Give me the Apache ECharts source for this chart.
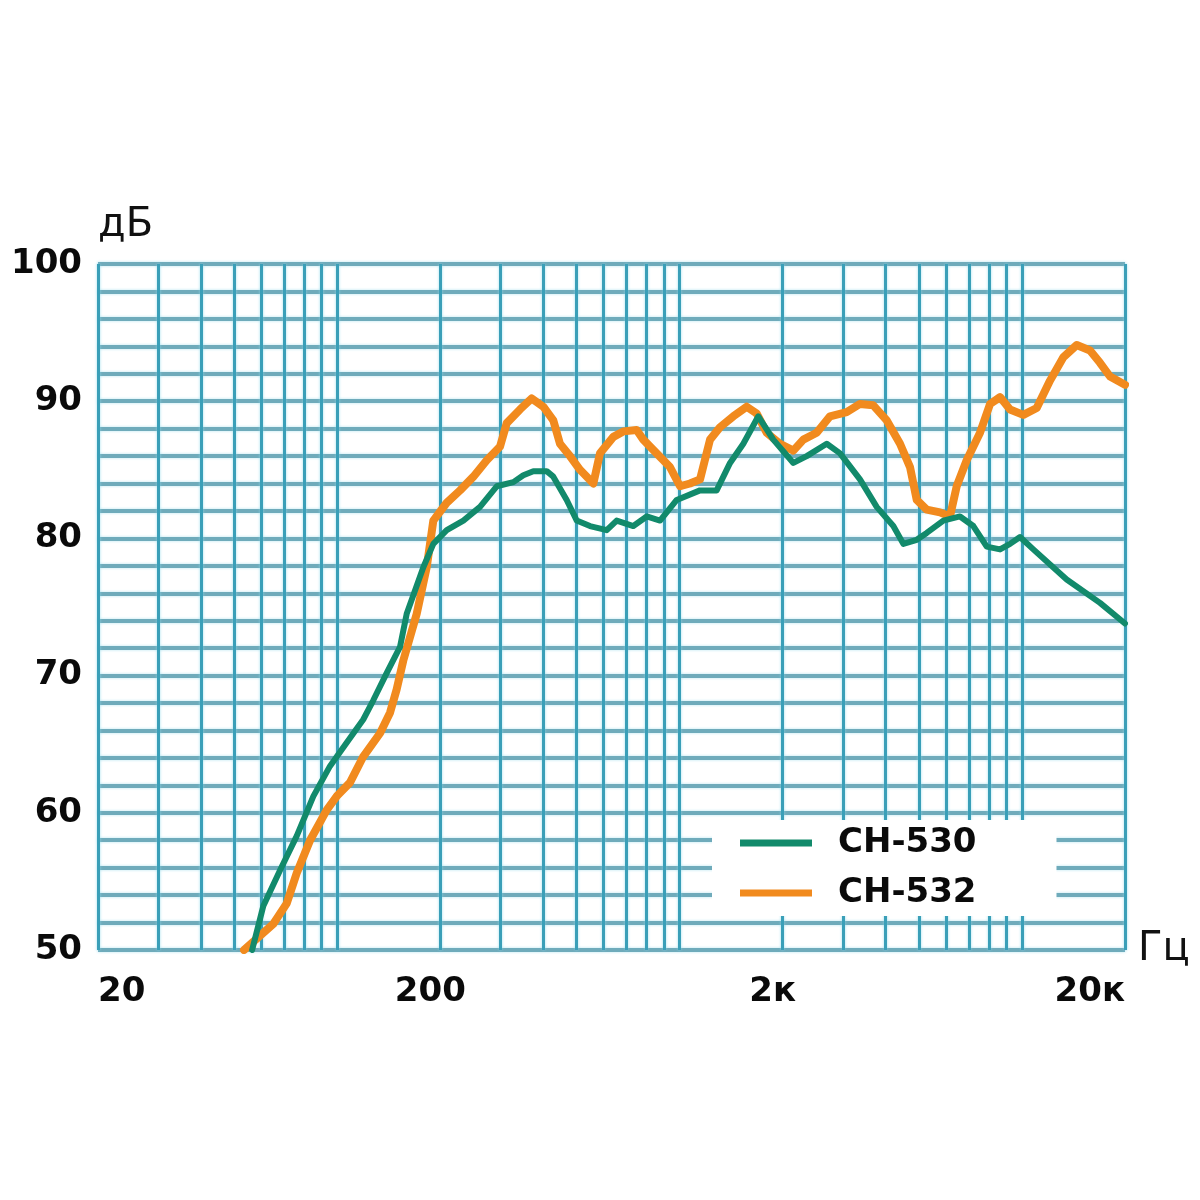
<!DOCTYPE html>
<html><head><meta charset="utf-8">
<script src="https://cdn.jsdelivr.net/npm/echarts@6/dist/echarts.min.js"></script>
<style>html,body{margin:0;padding:0;background:#fff}#c{width:1200px;height:1200px}</style>
</head><body><div id="c"></div>
<script>
// ---- data ----
const seriesNames = ['CH-530', 'CH-532'];

const ch530Freq = [56.4, 60.8, 68.0, 76.1, 85.1, 95.2, 106.5, 119.1, 127.4, 139.5, 152.5, 159.5, 178.4, 190.8, 208.8, 233.5, 261.2, 292.2, 326.8, 349.6, 373.9, 409.0, 427.6, 467.9, 500.4, 547.3, 612.4, 655.0, 732.5, 801.4, 876.6, 980.8, 1147, 1283, 1404, 1535, 1698, 1878, 2149, 2351, 2690, 2942, 3364, 3764, 4210, 4503, 4928, 5270, 5893, 6592, 7212, 7891, 8629, 9230, 9870, 10796, 13510, 16906, 20000];
const ch530Db   = [50.0, 53.2, 55.8, 58.3, 61.2, 63.4, 65.1, 66.8, 68.2, 70.2, 72.1, 74.5, 77.9, 79.6, 80.6, 81.3, 82.3, 83.8, 84.1, 84.6, 84.9, 84.9, 84.5, 82.8, 81.3, 80.9, 80.6, 81.3, 80.9, 81.6, 81.3, 82.8, 83.5, 83.5, 85.5, 86.9, 88.9, 87.2, 85.5, 86.0, 86.9, 86.2, 84.3, 82.3, 80.9, 79.6, 79.9, 80.4, 81.3, 81.6, 80.9, 79.4, 79.2, 79.6, 80.1, 79.2, 77.0, 75.3, 73.8];

const ch532Freq = [53.4, 65.0, 71.2, 76.1, 83.3, 93.1, 99.6, 108.9, 119.1, 133.3, 142.6, 149.1, 155.9, 170.6, 182.5, 190.8, 208.8, 228.4, 249.8, 273.3, 298.9, 312.6, 341.8, 369.8, 399.8, 427.6, 447.2, 478.3, 511.7, 559.7, 585.4, 640.3, 684.7, 749.1, 783.2, 857.0, 937.3, 1003, 1072, 1147, 1227, 1312, 1435, 1570, 1680, 1796, 1964, 2149, 2298, 2514, 2750, 3076, 3364, 3679, 4028, 4404, 4710, 4928, 5270, 5763, 6164, 6447, 6896, 7543, 8068, 8629, 9230, 10093, 11045, 12080, 13210, 14456, 15806, 16906, 18084, 20000];
const ch532Db   = [50.0, 51.9, 53.4, 55.6, 58.0, 60.2, 61.2, 62.2, 64.1, 65.8, 67.3, 69.0, 71.1, 74.5, 77.9, 81.3, 82.6, 83.5, 84.5, 85.7, 86.7, 88.4, 89.4, 90.2, 89.6, 88.6, 86.9, 86.0, 85.0, 84.0, 86.2, 87.4, 87.8, 87.9, 87.2, 86.2, 85.2, 83.8, 84.0, 84.3, 87.2, 88.1, 88.9, 89.6, 89.1, 87.7, 86.9, 86.4, 87.2, 87.7, 88.9, 89.2, 89.8, 89.7, 88.6, 86.9, 85.2, 82.8, 82.1, 81.9, 81.6, 83.8, 85.7, 87.7, 89.8, 90.3, 89.4, 89.0, 89.5, 91.5, 93.2, 94.1, 93.7, 92.8, 91.8, 91.2];

const xTickValues = [20, 200, 2000, 20000];
const xTickLabels = ['20', '200', '2к', '20к'];
const xGridValues = [20, 30, 40, 50, 60, 70, 80, 90, 100, 200, 300, 400, 500, 600, 700, 800, 900, 1000, 2000, 3000, 4000, 5000, 6000, 7000, 8000, 9000, 10000, 20000];
const yLabelValues = [50, 60, 70, 80, 90, 100];
const yMin = 50, yMax = 100, yGridStep = 2;
const xMin = 20, xMax = 20000;
const yTitle = 'дБ', xTitle = 'Гц';

// ---- chart ----
const pair = (fs, ds) => fs.map((f, i) => [f, ds[i]]);
const labelFont = { fontFamily: 'DejaVu Sans', fontWeight: 'bold', fontSize: 34, color: '#0a0a0a' };
const lastTick = xTickValues.length - 1;

const chart = echarts.init(document.getElementById('c'), null, { renderer: 'canvas' });
chart.setOption({
  animation: false,
  backgroundColor: '#fff',
  grid: { left: 98, top: 264, width: 1027, height: 686, containLabel: false },
  xAxis: {
    type: 'log', logBase: 10, min: xMin, max: xMax,
    axisLine: { show: false }, axisTick: { show: false }, axisLabel: { show: false },
    splitLine: { show: false },
    name: xTitle, nameLocation: 'end', nameGap: 13,
    nameTextStyle: { fontFamily: 'DejaVu Sans', fontSize: 40, color: '#111', verticalAlign: 'middle', padding: [0, 0, 24, 0] }
  },
  yAxis: {
    type: 'value', min: yMin, max: yMax, interval: yGridStep,
    axisLine: { show: false }, axisTick: { show: false },
    axisLabel: Object.assign({ margin: 16, formatter: v => (yLabelValues.indexOf(v) >= 0 ? String(v) : '') }, labelFont),
    splitLine: { show: true, lineStyle: { color: '#6fabbb', width: 4, shadowColor: 'rgba(150,220,235,0.7)', shadowBlur: 3 } },
    name: yTitle, nameLocation: 'end', nameGap: 18,
    nameTextStyle: { fontFamily: 'DejaVu Sans', fontSize: 40, color: '#111', align: 'left', verticalAlign: 'bottom' }
  },
  legend: {
    data: seriesNames,
    orient: 'vertical', left: 712, top: 820, z: 10,
    backgroundColor: '#fff',
    padding: [6, 80, 6, 28],
    itemWidth: 72, itemHeight: 7, itemGap: 16,
    icon: 'rect', selectedMode: false,
    textStyle: Object.assign({ lineHeight: 34, padding: [0, 0, 0, 21] }, labelFont)
  },
  series: [
    {
      name: 'grid', type: 'line', data: [], z: 1, silent: true,
      markLine: {
        silent: true, symbol: 'none', animation: false, z: 1,
        label: { show: false },
        lineStyle: { color: '#3a9fb8', width: 3, type: 'solid', shadowColor: 'rgba(140,215,235,0.8)', shadowBlur: 3 },
        emphasis: { disabled: true },
        data: xGridValues.map(v => ({ xAxis: v }))
      }
    },
    {
      name: 'ticks', type: 'scatter', symbolSize: 0, silent: true, clip: false, z: 5,
      itemStyle: { opacity: 1 },
      data: xTickValues.map((v, i) => ({
        value: [v, yMin],
        label: {
          align: i === 0 ? 'left' : (i === lastTick ? 'right' : 'center'),
          offset: (i === 0 || i === lastTick) ? [0, 0] : [-10, 0]
        }
      })),
      label: Object.assign({ show: true, position: 'bottom', distance: 25, opacity: 1, formatter: p => xTickLabels[p.dataIndex] }, labelFont)
    },
    {
      name: seriesNames[1], type: 'line', z: 3, showSymbol: false, smooth: false,
      color: '#f18a1e',
      lineStyle: { color: '#f18a1e', width: 8, join: 'round', cap: 'round' },
      data: pair(ch532Freq, ch532Db)
    },
    {
      name: seriesNames[0], type: 'line', z: 4, showSymbol: false, smooth: false,
      color: '#128a6b',
      lineStyle: { color: '#128a6b', width: 6, join: 'round', cap: 'round' },
      data: pair(ch530Freq, ch530Db)
    }
  ]
});
</script>
</body></html>
